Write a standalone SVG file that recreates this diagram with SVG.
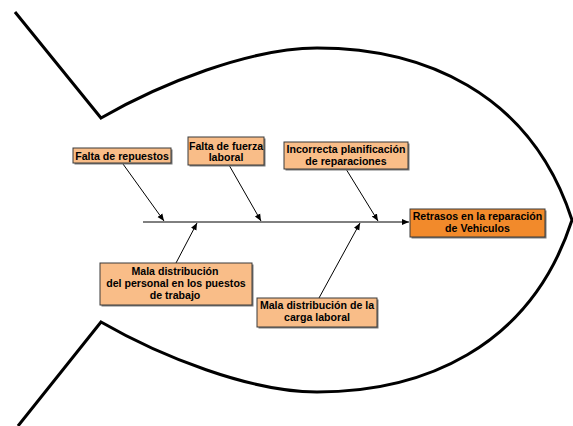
<svg xmlns="http://www.w3.org/2000/svg" width="573" height="426" viewBox="0 0 573 426">
<defs>
<marker id="ah" markerWidth="8" markerHeight="8" refX="7" refY="4" orient="auto" markerUnits="userSpaceOnUse">
<path d="M0,1 L7,4 L0,7 Z" fill="#000"/>
</marker>
<style>
.fish{fill:none;stroke:#000;stroke-width:3;stroke-linejoin:miter}
.conn{fill:none;stroke:#000;stroke-width:1;marker-end:url(#ah)}
.box{fill:#F9BD88;stroke:#3a3a3a;stroke-width:1}
.main{fill:#F28A2B;stroke:#3a3a3a;stroke-width:1}
.shadow{fill:#7a7a7a}
.t{font-family:"Liberation Sans",Arial,sans-serif;font-weight:bold;font-size:10.6px;fill:#000;text-anchor:middle}
</style>
</defs>
<rect width="573" height="426" fill="#fff"/>
<g id="fish">
<path class="fish" d="M15,12 L101,118 C160,84 250,48 317,48 C420,48 530,90 572,220 C530,350 420,392 317,392 C250,392 160,356 101,322 L18,426"/>
</g>
<g id="connectors">
<line class="conn" x1="143" y1="222" x2="409" y2="222"/>
<line class="conn" x1="123" y1="164" x2="164" y2="221"/>
<line class="conn" x1="229" y1="165" x2="261" y2="221"/>
<line class="conn" x1="346" y1="169" x2="378" y2="221"/>
<line class="conn" x1="176" y1="263" x2="197" y2="223"/>
<line class="conn" x1="319" y1="298" x2="360" y2="223"/>
</g>
<g id="effect">
<rect class="shadow" x="411.5" y="210.5" width="135" height="28"/>
<rect class="main" x="410" y="209" width="135" height="28"/>
<text class="t" x="477.5" y="220">Retrasos en la reparación</text>
<text class="t" x="477.5" y="232">de Vehiculos</text>
</g>
<g id="cause1">
<rect class="shadow" x="74.5" y="149.5" width="98" height="15"/>
<rect class="box" x="73" y="148" width="98" height="15"/>
<text class="t" x="122" y="159.5">Falta de repuestos</text>
</g>
<g id="cause2">
<rect class="shadow" x="189.5" y="138.5" width="76" height="28"/>
<rect class="box" x="188" y="137" width="76" height="28"/>
<text class="t" x="226" y="149.5">Falta de fuerza</text>
<text class="t" x="226" y="161">laboral</text>
</g>
<g id="cause3">
<rect class="shadow" x="285.5" y="143.5" width="124" height="27"/>
<rect class="box" x="284" y="142" width="124" height="27"/>
<text class="t" x="346" y="153">Incorrecta planificación</text>
<text class="t" x="346" y="165">de reparaciones</text>
</g>
<g id="cause4">
<rect class="shadow" x="101.5" y="264.5" width="152" height="42"/>
<rect class="box" x="100" y="263" width="152" height="42"/>
<text class="t" x="175" y="275">Mala distribución</text>
<text class="t" x="176" y="287">del personal en los puestos</text>
<text class="t" x="175" y="298.5">de trabajo</text>
</g>
<g id="cause5">
<rect class="shadow" x="258.5" y="299.5" width="120" height="29"/>
<rect class="box" x="257" y="298" width="120" height="29"/>
<text class="t" x="317" y="308.5">Mala distribución de la</text>
<text class="t" x="317" y="320.5">carga laboral</text>
</g>
</svg>
